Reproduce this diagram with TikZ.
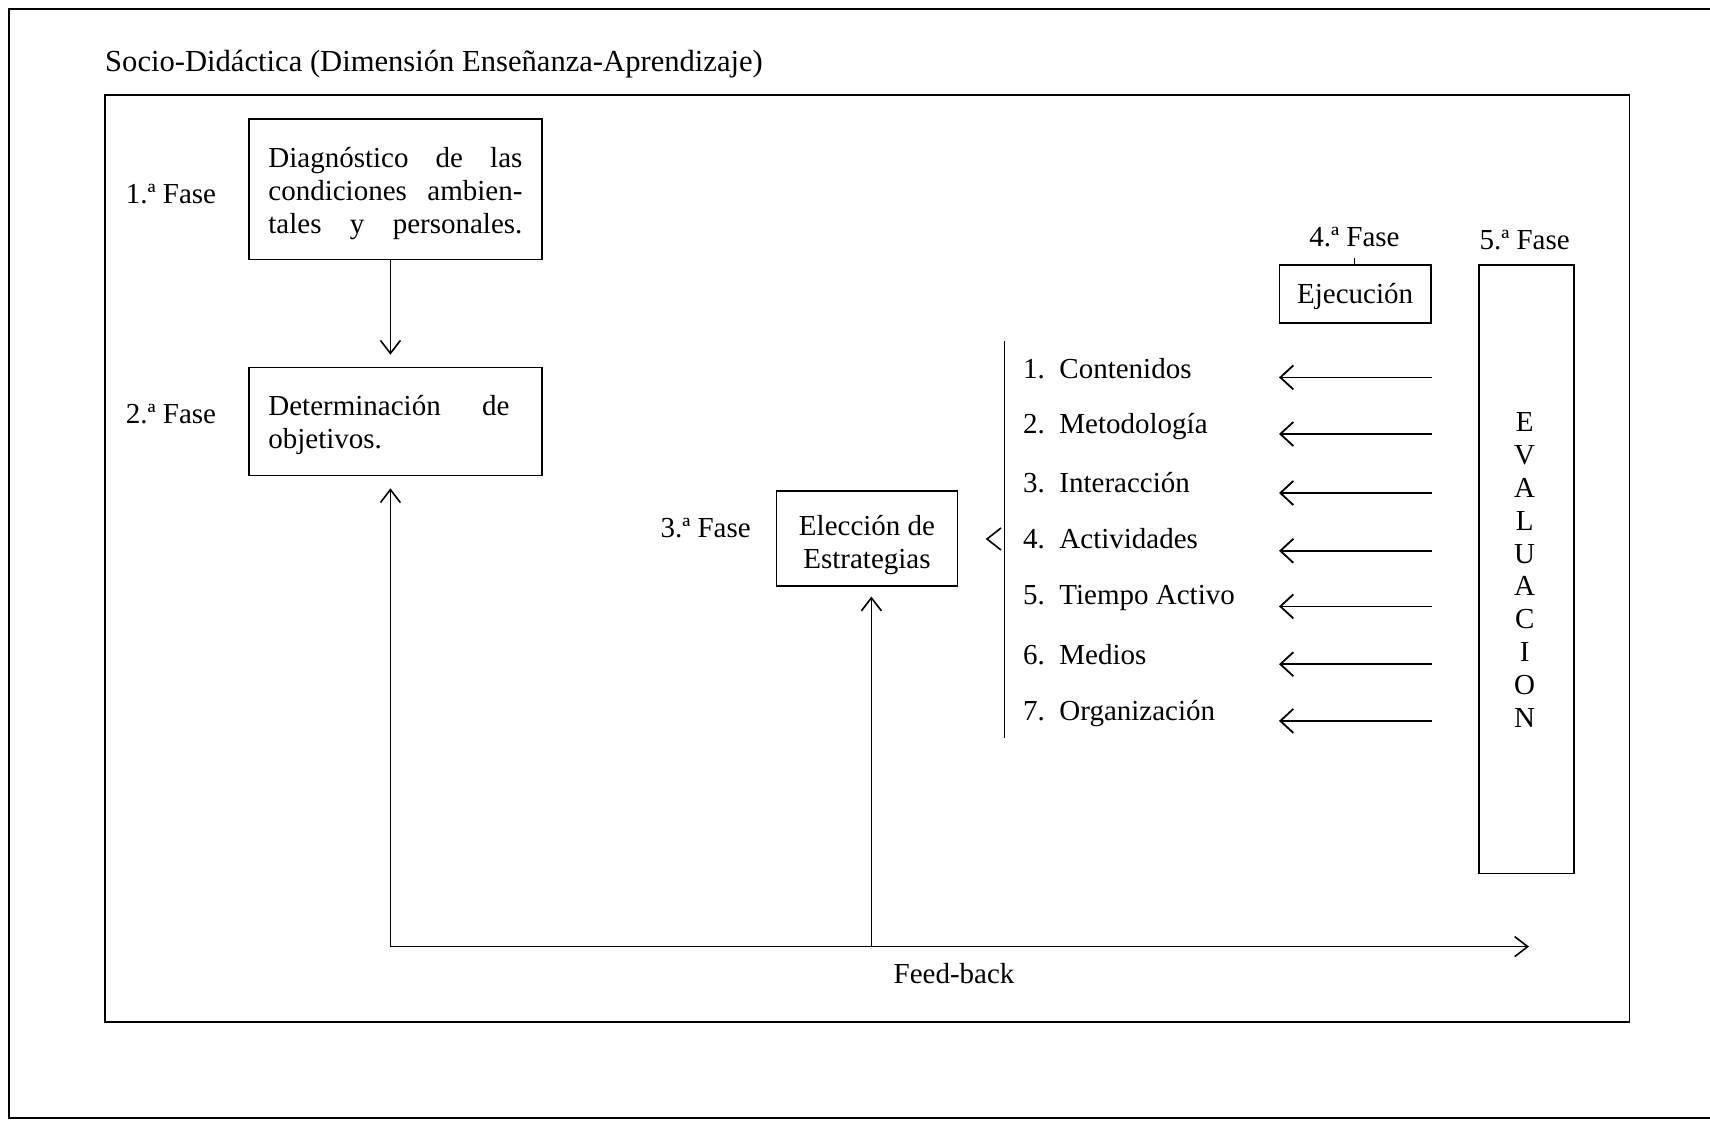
\documentclass[tikz,border=0pt]{standalone}
\usepackage{fontspec}
\setmainfont{Liberation Serif}
\usetikzlibrary{arrows.meta}
\newcommand{\jline}[2]{\leavevmode\hbox to #1{#2}}
\begin{document}
\begin{tikzpicture}[x=1pt,y=-1pt,
  every node/.style={font=\fontsize{29}{33}\selectfont, inner sep=0pt},
  frame/.style={line width=1.8pt},
  boxed/.style={draw, line width=1.6pt, inner sep=0pt},
  lbl/.style={},
  arr/.style={line width=1.6pt, -{Straight Barb[length=13pt,width=20pt,line width=1.6pt]}},
  itemarr/.style={line width=1.8pt, -{Straight Barb[length=13pt,width=24pt,line width=1.8pt]}},
  plain/.style={line width=1.6pt}]
\useasboundingbox (0,0) rectangle (1710,1123);
% outer and inner frames
\draw[frame] (1710,9) -- (9,9) -- (9,1118) -- (1710,1118);
\draw[frame] (104.7,94.9) rectangle (1629.4,1021.9);
\node[anchor=base west, font=\fontsize{30.6}{33}\selectfont] (title) at (105,72) {Socio-Didáctica (Dimensión Enseñanza-Aprendizaje)};
% boxes
\node[boxed, minimum width=293.3pt, minimum height=140.7pt] (diag) at (395.4,189.3) {};
\node[text width=254pt, align=left] (diagtxt) at (395.4,193.7)
  {\jline{254pt}{Diagnóstico\hfill de\hfill las}\\\jline{254pt}{condiciones\hfill ambien-}\\\jline{254pt}{tales\hfill y\hfill personales.}};
\node[boxed, minimum width=293.3pt, minimum height=108pt] (obj) at (395.4,421.5) {};
\node[text width=254pt, align=left] (objtxt) at (395.4,424.8)
  {\jline{241pt}{Determinación\hfill de}\\objetivos.};
\node[boxed, minimum width=181pt, minimum height=94.9pt] (estr) at (867,538.3) {};
\node[align=center] (estrtxt) at (867,544.8) {Elección de\\Estrategias};
\node[boxed, minimum width=151.6pt, minimum height=57.8pt] (ejec) at (1355.1,293.9) {};
\node (ejectxt) at (1355.1,296.1) {Ejecución};
\node[boxed, minimum width=94.8pt, minimum height=608.6pt] (eval) at (1526.3,569.3) {};
\node[align=center, font=\fontsize{29}{32.8}\selectfont] (evaltxt) at (1524.7,570)
  {E\\V\\A\\L\\U\\A\\C\\I\\O\\N};
% phase labels
\node[lbl] (f1) at (171,194) {1.ª Fase};
\node[lbl] (f2) at (171,414) {2.ª Fase};
\node[lbl] (f3) at (705.6,527.9) {3.ª Fase};
\node[lbl] (f4) at (1354.5,236.7) {4.ª Fase};
\node[lbl] (f5) at (1524.6,240) {5.ª Fase};
\coordinate (f4tick) at (1354.5,258.5);
\draw[plain] (f4tick) -- (f4tick |- ejec.north);
% list
\coordinate (brT) at (1004.4,341.4);
\coordinate (brB) at (1004.4,738.3);
\draw[plain] (brT) -- (brB);
\draw[plain] (1001,528) -- (987,539) -- (1001,550);
\node[anchor=west] (i1) at (1023,368.6) {1.\ \ Contenidos};
\node[anchor=west] (i2) at (1023,426.5) {2.\ \ Metodología};
\node[anchor=west] (i3) at (1023,483.1) {3.\ \ Interacción};
\node[anchor=west] (i4) at (1023,538.8) {4.\ \ Actividades};
\node[anchor=west] (i5) at (1023,598.3) {5.\ \ Tiempo Activo};
\node[anchor=west] (i6) at (1023,654.4) {6.\ \ Medios};
\node[anchor=west] (i7) at (1023,713.5) {7.\ \ Organización};
\foreach \k/\yy in {1/377.4,2/434,3/493,4/550.8,5/606.4,6/664.2,7/720.9}{
  \coordinate (r\k) at (1432,\yy);
  \coordinate (l\k) at (1279,\yy);
  \draw[itemarr] (r\k) -- (l\k);
}
% arrows
\coordinate (fbL) at (390.4,946.6);
\coordinate (fbM) at (871.4,946.6);
\coordinate (fbR) at (1529,946.6);
\draw[arr] (fbL) -- (fbR);
\draw[arr, shorten >=12pt] (fbL) -- (fbL |- obj.south);
\draw[arr, shorten >=10pt] (fbM) -- (fbM |- estr.south);
\draw[arr, shorten >=12pt] (diag.south -| fbL) -- (obj.north -| fbL);
\node (fb) at (954,974) {Feed-back};
\end{tikzpicture}
\end{document}
